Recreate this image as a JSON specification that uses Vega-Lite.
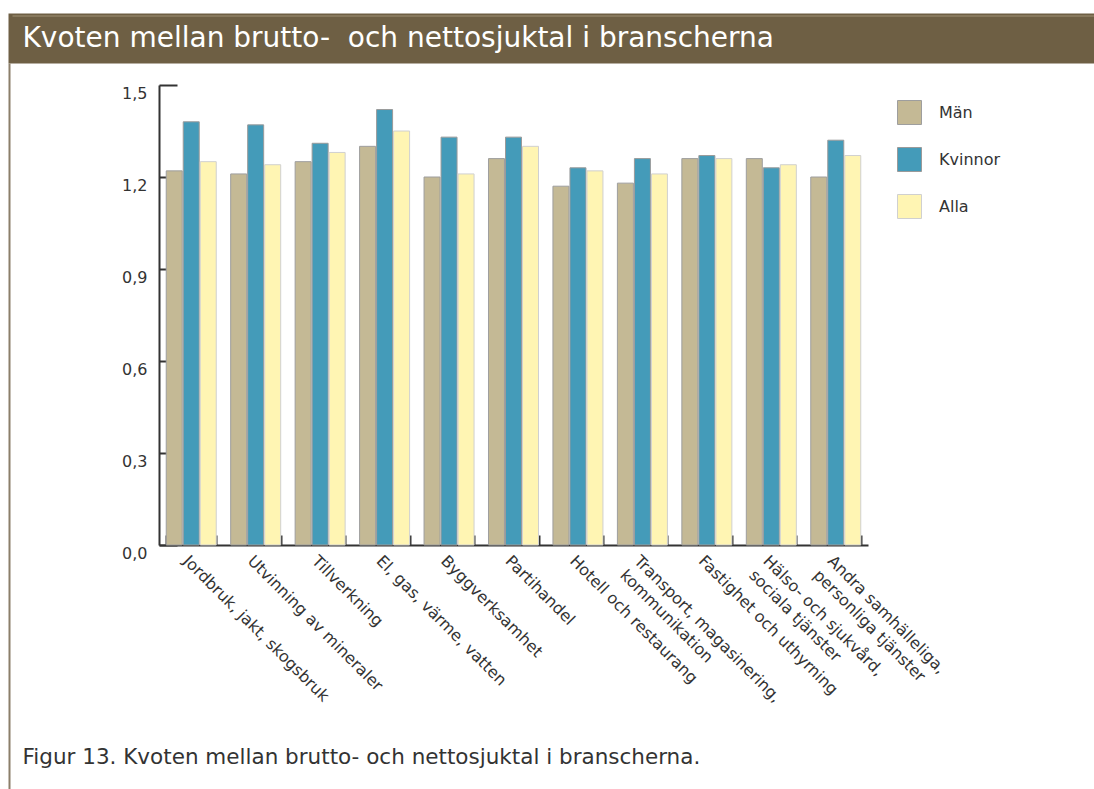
{
  "$schema": "https://vega.github.io/schema/vega-lite/v6.json",
  "padding": {"left": 8, "top": 63, "right": 0, "bottom": 0},
  "autosize": {"type": "none"},
  "background": "white",
  "config": {"font": "DejaVu Sans", "view": {"stroke": null}},
  "width": 1086,
  "height": 726,
  "data": {"values": [
      {"bransch": "Jordbruk, jakt, skogsbruk", "grupp": "Män", "kvot": 1.22},
      {"bransch": "Jordbruk, jakt, skogsbruk", "grupp": "Kvinnor", "kvot": 1.38},
      {"bransch": "Jordbruk, jakt, skogsbruk", "grupp": "Alla", "kvot": 1.25},
      {"bransch": "Utvinning av mineraler", "grupp": "Män", "kvot": 1.21},
      {"bransch": "Utvinning av mineraler", "grupp": "Kvinnor", "kvot": 1.37},
      {"bransch": "Utvinning av mineraler", "grupp": "Alla", "kvot": 1.24},
      {"bransch": "Tillverkning", "grupp": "Män", "kvot": 1.25},
      {"bransch": "Tillverkning", "grupp": "Kvinnor", "kvot": 1.31},
      {"bransch": "Tillverkning", "grupp": "Alla", "kvot": 1.28},
      {"bransch": "El, gas, värme, vatten", "grupp": "Män", "kvot": 1.30},
      {"bransch": "El, gas, värme, vatten", "grupp": "Kvinnor", "kvot": 1.42},
      {"bransch": "El, gas, värme, vatten", "grupp": "Alla", "kvot": 1.35},
      {"bransch": "Byggverksamhet", "grupp": "Män", "kvot": 1.20},
      {"bransch": "Byggverksamhet", "grupp": "Kvinnor", "kvot": 1.33},
      {"bransch": "Byggverksamhet", "grupp": "Alla", "kvot": 1.21},
      {"bransch": "Partihandel", "grupp": "Män", "kvot": 1.26},
      {"bransch": "Partihandel", "grupp": "Kvinnor", "kvot": 1.33},
      {"bransch": "Partihandel", "grupp": "Alla", "kvot": 1.30},
      {"bransch": "Hotell och restaurang", "grupp": "Män", "kvot": 1.17},
      {"bransch": "Hotell och restaurang", "grupp": "Kvinnor", "kvot": 1.23},
      {"bransch": "Hotell och restaurang", "grupp": "Alla", "kvot": 1.22},
      {"bransch": "Transport, magasinering,\nkommunikation", "grupp": "Män", "kvot": 1.18},
      {"bransch": "Transport, magasinering,\nkommunikation", "grupp": "Kvinnor", "kvot": 1.26},
      {"bransch": "Transport, magasinering,\nkommunikation", "grupp": "Alla", "kvot": 1.21},
      {"bransch": "Fastighet och uthyrning", "grupp": "Män", "kvot": 1.26},
      {"bransch": "Fastighet och uthyrning", "grupp": "Kvinnor", "kvot": 1.27},
      {"bransch": "Fastighet och uthyrning", "grupp": "Alla", "kvot": 1.26},
      {"bransch": "Hälso- och sjukvård,\nsociala tjänster", "grupp": "Män", "kvot": 1.26},
      {"bransch": "Hälso- och sjukvård,\nsociala tjänster", "grupp": "Kvinnor", "kvot": 1.23},
      {"bransch": "Hälso- och sjukvård,\nsociala tjänster", "grupp": "Alla", "kvot": 1.24},
      {"bransch": "Andra samhälleliga,\npersonliga tjänster", "grupp": "Män", "kvot": 1.20},
      {"bransch": "Andra samhälleliga,\npersonliga tjänster", "grupp": "Kvinnor", "kvot": 1.32},
      {"bransch": "Andra samhälleliga,\npersonliga tjänster", "grupp": "Alla", "kvot": 1.27}
  ]},
  "layer": [
    {
      "mark": {"type": "bar", "strokeWidth": 1},
      "encoding": {
        "x": {
          "field": "bransch",
          "type": "nominal",
          "sort": null,
          "scale": {"range": [151, 860], "paddingInner": 0.224, "paddingOuter": 0.112},
          "axis": {
            "orient": "bottom",
            "offset": -244,
            "title": "Figur 13. Kvoten mellan brutto- och nettosjuktal i branscherna.",
            "titleX": 14,
            "titleY": 218,
            "titleAlign": "left",
            "titleBaseline": "alphabetic",
            "titleFontSize": 21.5,
            "titleFontWeight": "normal",
            "titleColor": "#333333",
            "domainColor": "#333333",
            "domainWidth": 2,
            "tickBand": "extent",
            "tickColor": "#333333",
            "tickWidth": 2,
            "tickSize": -10,
            "labelAngle": 45,
            "labelAlign": "left",
            "labelBaseline": "middle",
            "labelFontSize": 16,
            "labelColor": "#333333",
            "labelPadding": 23,
            "labelLimit": 400,
            "labelLineHeight": 20,
            "labelOffset": -6,
            "labelExpr": "split(datum.label, '\\n')"
          }
        },
        "xOffset": {
          "field": "grupp",
          "type": "nominal",
          "sort": ["Män", "Kvinnor", "Alla"],
          "scale": {"paddingInner": 0.06, "paddingOuter": 0}
        },
        "y": {
          "field": "kvot",
          "type": "quantitative",
          "scale": {"domain": [0, 1.5], "range": [482, 22], "nice": false},
          "axis": {
            "orient": "left",
            "offset": -151,
            "minExtent": 0,
            "values": [0, 0.3, 0.6, 0.9, 1.2, 1.5],
            "title": null,
            "grid": false,
            "domainColor": "#333333",
            "domainWidth": 2,
            "tickColor": "#333333",
            "tickWidth": 2,
            "tickSize": -18,
            "labelFontSize": 16,
            "labelColor": "#333333",
            "labelPadding": 30,
            "labelBaseline": "top",
            "labelExpr": "replace(format(datum.value, '.1f'), '.', ',')"
          }
        },
        "fill": {
          "field": "grupp",
          "type": "nominal",
          "sort": ["Män", "Kvinnor", "Alla"],
          "scale": {"domain": ["Män", "Kvinnor", "Alla"], "range": ["#c4b995", "#449bb9", "#fff5b3"]},
          "legend": {
            "orient": "none",
            "legendX": 889,
            "legendY": 37,
            "title": null,
            "symbolType": "square",
            "symbolSize": 576,
            "symbolStrokeWidth": 1,
            "labelFontSize": 16,
            "labelColor": "#333333",
            "labelOffset": 17,
            "rowPadding": 18,
            "padding": 0
          }
        },
        "stroke": {
          "field": "grupp",
          "type": "nominal",
          "sort": ["Män", "Kvinnor", "Alla"],
          "scale": {"domain": ["Män", "Kvinnor", "Alla"], "range": ["#9e9e9e", "#9a9a9a", "#d0d0d0"]}
        }
      }
    },
    {
      "mark": {"type": "bar", "opacity": 0},
      "encoding": {
        "x": {
          "field": "bransch",
          "type": "nominal",
          "sort": null,
          "axis": {
            "orient": "top",
            "offset": 25,
            "domainColor": "#6e5f44",
            "domainWidth": 50,
            "ticks": false,
            "labels": false,
            "grid": false,
            "title": "Kvoten mellan brutto-\u00a0 och nettosjuktal i branscherna",
            "titleX": 14,
            "titleY": 8,
            "titleAlign": "left",
            "titleBaseline": "alphabetic",
            "titleFontSize": 28,
            "titleFontWeight": "normal",
            "titleColor": "#ffffff",
            "titleFont": "DejaVu Sans"
          }
        },
        "y": {
          "field": "kvot",
          "type": "quantitative",
          "scale": {"domain": [0, 1.5]},
          "axis": {
            "orient": "left",
            "offset": -1,
            "minExtent": 0,
            "domainColor": "#8b7f6a",
            "domainWidth": 2,
            "ticks": false,
            "labels": false,
            "title": null,
            "grid": false
          }
        }
      }
    },
    {
      "mark": {"type": "bar", "opacity": 0},
      "encoding": {
        "x": {
          "field": "bransch",
          "type": "nominal",
          "sort": null,
          "scale": {"range": [4, 1086]},
          "axis": {
            "orient": "top",
            "offset": 47.5,
            "domainColor": "#a09275",
            "domainWidth": 1,
            "ticks": false,
            "labels": false,
            "grid": false,
            "title": null
          }
        },
        "y": {
          "field": "kvot",
          "type": "quantitative",
          "scale": {"domain": [0, 1.5]},
          "axis": null
        }
      }
    }
  ],
  "resolve": {"scale": {"x": "independent", "y": "independent"}, "axis": {"x": "independent", "y": "independent"}}
}
